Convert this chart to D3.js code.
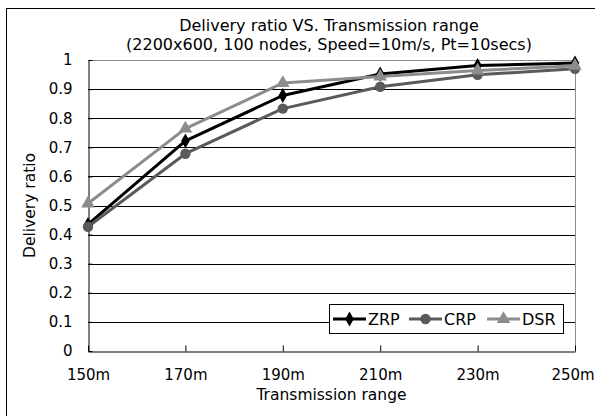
<!DOCTYPE html>
<html>
<head>
<meta charset="utf-8">
<script src="https://cdn.jsdelivr.net/npm/d3@7"></script>
<style>
  html, body { margin: 0; padding: 0; background: #fff; }
  svg { display: block; }
  text { font-family: "DejaVu Sans", sans-serif; fill: #000; }
</style>
</head>
<body>
<svg id="chart" width="595" height="416"></svg>
<script>
const categories = ["150m", "170m", "190m", "210m", "230m", "250m"];
const zrp = [0.435, 0.722, 0.878, 0.952, 0.981, 0.990];
const crp = [0.427, 0.678, 0.833, 0.908, 0.949, 0.970];
const dsr = [0.507, 0.764, 0.921, 0.943, 0.964, 0.980];
const seriesNames = ["ZRP", "CRP", "DSR"];
const yTicks = [0, 0.1, 0.2, 0.3, 0.4, 0.5, 0.6, 0.7, 0.8, 0.9, 1];
const titleLines = ["Delivery ratio VS. Transmission range", "(2200x600, 100 nodes, Speed=10m/s, Pt=10secs)"];
const xTitle = "Transmission range";
const yTitle = "Delivery ratio";

const series = [
  { name: seriesNames[0], values: zrp, color: "#000000", marker: d3.symbolDiamond, size: 64 },
  { name: seriesNames[1], values: crp, color: "#5a5a5a", marker: d3.symbolCircle, size: 85 },
  { name: seriesNames[2], values: dsr, color: "#8c8c8c", marker: d3.symbolTriangle, size: 80 }
];

const svg = d3.select("#chart");
const m = { left: 88, right: 575, top: 60, bottom: 351 };

// outer chart border
svg.append("rect").attr("x", 6.5).attr("y", 8.5).attr("width", 600).attr("height", 420)
  .attr("fill", "#fff").attr("stroke", "#000").attr("stroke-width", 1);

const x = d3.scalePoint().domain(categories).range([m.left, m.right]);
const y = d3.scaleLinear().domain([0, 1]).range([m.bottom, m.top]);

// gridlines
svg.append("g").selectAll("line").data(yTicks.filter(t => t > 0 && t < 1)).join("line")
  .attr("x1", m.left).attr("x2", m.right)
  .attr("y1", d => Math.round(y(d)) + 0.5).attr("y2", d => Math.round(y(d)) + 0.5)
  .attr("stroke", "#000").attr("stroke-width", 1);

// plot area border top & right (gray)
svg.append("line").attr("x1", m.left).attr("x2", m.right + 0.5)
  .attr("y1", m.top + 0.5).attr("y2", m.top + 0.5).attr("stroke", "#8c8c8c");
svg.append("line").attr("x1", m.right + 0.5).attr("x2", m.right + 0.5)
  .attr("y1", m.top).attr("y2", m.bottom).attr("stroke", "#8c8c8c");

// y axis
const yAxis = d3.axisLeft(y).tickValues(yTicks).tickFormat(d => d3.format("")(d)).tickSizeInner(-4).tickSizeOuter(0).tickPadding(16);
const gy = svg.append("g").attr("transform", `translate(${m.left + 0.5},0)`).call(yAxis);
gy.select(".domain").attr("stroke", "#000");
gy.selectAll(".tick line").attr("stroke", "#000");
gy.selectAll("text").attr("font-size", 15).attr("fill", "#000").attr("font-family", null);

// x axis
const xAxis = d3.axisBottom(x).tickSizeInner(-6).tickSizeOuter(0).tickPadding(18);
const gx = svg.append("g").attr("transform", `translate(0,${m.bottom + 0.5})`).call(xAxis);
gx.select(".domain").attr("stroke", "#000");
gx.selectAll(".tick line").attr("stroke", "#000");
gx.selectAll("text").attr("font-size", 15).attr("fill", "#000").attr("font-family", null)
  .attr("dx", (d, i) => i === categories.length - 1 ? -2.5 : 0);

// lines & markers
const line = d3.line().x((d, i) => x(categories[i])).y(d => y(d));
series.forEach(s => {
  svg.append("path").datum(s.values).attr("d", line)
    .attr("fill", "none").attr("stroke", s.color).attr("stroke-width", 3).attr("stroke-linejoin", "round");
});
series.forEach(s => {
  svg.append("g").selectAll("path").data(s.values).join("path")
    .attr("transform", (d, i) => `translate(${x(categories[i])},${y(d)})`)
    .attr("d", d3.symbol().type(s.marker).size(s.size))
    .attr("fill", s.color);
});

// titles
svg.append("text").attr("x", 329).attr("y", 31).attr("text-anchor", "middle").attr("font-size", 16).text(titleLines[0]);
svg.append("text").attr("x", 329).attr("y", 50).attr("text-anchor", "middle").attr("font-size", 16).text(titleLines[1]);
svg.append("text").attr("x", (m.left + m.right) / 2).attr("y", 400).attr("text-anchor", "middle").attr("font-size", 15.5).text(xTitle);
svg.append("text").attr("transform", `translate(35,${(m.top + m.bottom) / 2}) rotate(-90)`)
  .attr("text-anchor", "middle").attr("font-size", 15.5).text(yTitle);

// legend
const lg = svg.append("g");
lg.append("rect").attr("x", 329.5).attr("y", 304.5).attr("width", 234).attr("height", 29)
  .attr("fill", "#fff").attr("stroke", "#000");
const legX = [333, 409, 487];
series.forEach((s, i) => {
  const lx = legX[i], ly = 319;
  lg.append("line").attr("x1", lx).attr("x2", lx + 33).attr("y1", ly).attr("y2", ly)
    .attr("stroke", s.color).attr("stroke-width", 3);
  lg.append("path").attr("transform", `translate(${lx + 16.5},${ly})`)
    .attr("d", d3.symbol().type(s.marker).size(s.size)).attr("fill", s.color);
  lg.append("text").attr("x", lx + 35).attr("y", ly + 6).attr("font-size", 16).text(s.name);
});
</script>
</body>
</html>
